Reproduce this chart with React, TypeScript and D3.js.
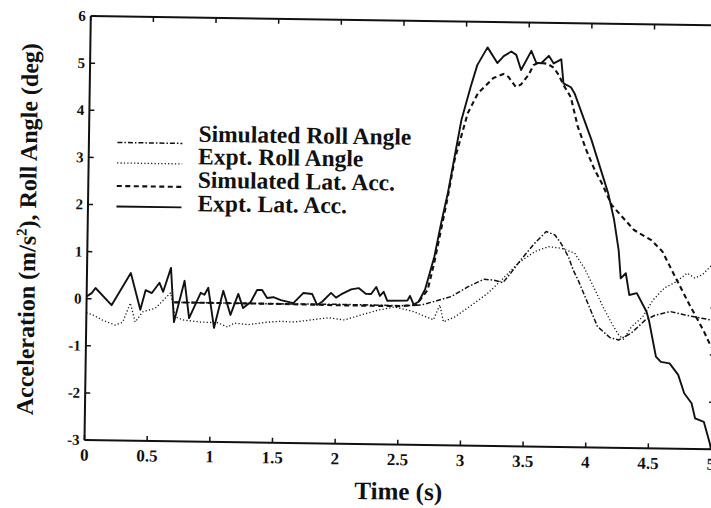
import React from 'react';
import * as d3 from 'd3';

const timeTicks = [0, 0.5, 1, 1.5, 2, 2.5, 3, 3.5, 4, 4.5, 5];
const timeTickLabels = ['0', '0.5', '1', '1.5', '2', '2.5', '3', '3.5', '4', '4.5', '5'];
const valueTicks = [-3, -2, -1, 0, 1, 2, 3, 4, 5, 6];
const valueTickLabels = ['-3', '-2', '-1', '0', '1', '2', '3', '4', '5', '6'];

const seriesNames = ['Simulated Roll Angle', 'Expt. Roll Angle', 'Simulated Lat. Acc.', 'Expt. Lat. Acc.'];

const simRollAngle: [number, number][] = [
  [0.7, -0.05], [1.5, -0.05], [2.0, -0.04], [2.5, -0.05], [2.67, -0.03], [2.8, 0.07], [2.91, 0.16],
  [3.04, 0.37], [3.17, 0.54], [3.25, 0.52], [3.32, 0.47], [3.38, 0.67], [3.46, 0.96], [3.57, 1.32],
  [3.66, 1.57], [3.73, 1.5], [3.78, 1.32], [3.84, 1.04], [3.88, 0.76], [3.92, 0.55], [4.0, 0.06],
  [4.08, -0.43], [4.18, -0.66], [4.25, -0.71], [4.35, -0.56], [4.46, -0.28], [4.54, -0.17],
  [4.66, -0.09], [4.78, -0.16], [4.91, -0.22], [5.0, -0.26],
];

const exptRollAngle: [number, number][] = [
  [0, -0.3], [0.05, -0.34], [0.13, -0.45], [0.23, -0.55], [0.29, -0.49], [0.35, -0.08], [0.39, -0.48],
  [0.45, -0.26], [0.55, -0.18], [0.67, 0.15], [0.71, -0.36], [0.77, -0.42], [0.91, -0.46], [1.05, -0.47],
  [1.13, -0.56], [1.18, -0.47], [1.29, -0.5], [1.45, -0.44], [1.55, -0.42], [1.66, -0.43], [1.82, -0.37],
  [1.93, -0.33], [2.06, -0.37], [2.19, -0.26], [2.33, -0.15], [2.46, -0.08], [2.51, -0.11], [2.61, -0.17],
  [2.77, -0.34], [2.82, -0.02], [2.85, -0.38], [2.94, -0.27], [3.04, -0.08], [3.2, 0.24], [3.31, 0.53],
  [3.44, 0.89], [3.57, 1.14], [3.68, 1.25], [3.78, 1.22], [3.89, 1.12], [3.97, 0.8], [4.05, 0.38],
  [4.12, 0.0], [4.2, -0.39], [4.25, -0.6], [4.29, -0.69], [4.35, -0.43], [4.44, -0.21], [4.52, 0.15],
  [4.61, 0.41], [4.7, 0.54], [4.79, 0.73], [4.85, 0.63], [4.91, 0.7], [5.0, 0.95],
];

const simLatAcc: [number, number][] = [
  [0.7, -0.05], [1.5, -0.05], [2.0, -0.06], [2.5, -0.06], [2.63, -0.03], [2.72, 0.29], [2.77, 0.87],
  [2.82, 1.57], [2.87, 2.27], [2.92, 3.06], [3.02, 4.06], [3.1, 4.49], [3.15, 4.62], [3.22, 4.81],
  [3.3, 4.9], [3.34, 4.84], [3.4, 4.63], [3.44, 4.68], [3.5, 4.89], [3.54, 5.1], [3.58, 5.15],
  [3.65, 5.13], [3.7, 5.05], [3.74, 4.9], [3.78, 4.69], [3.84, 4.43], [3.9, 3.8], [3.97, 3.31],
  [4.04, 2.89], [4.1, 2.6], [4.18, 2.15], [4.36, 1.63], [4.5, 1.42], [4.59, 1.18], [4.7, 0.62],
  [4.81, 0.07], [4.88, -0.26], [4.93, -0.5], [4.99, -0.83],
];

const exptLatAcc: [number, number][] = [
  [0, 0.05], [0.04, 0.12], [0.07, 0.23], [0.2, -0.13], [0.35, 0.56], [0.43, -0.22], [0.47, 0.2],
  [0.52, 0.14], [0.58, 0.36], [0.61, 0.17], [0.67, 0.68], [0.7, -0.47], [0.78, 0.41], [0.82, -0.38],
  [0.91, 0.16], [0.94, 0.12], [0.97, 0.27], [1.02, -0.58], [1.09, 0.21], [1.15, -0.3], [1.21, 0.15],
  [1.25, -0.15], [1.31, -0.02], [1.36, 0.24], [1.4, 0.24], [1.44, 0.07], [1.49, 0.09], [1.55, 0.03],
  [1.65, -0.03], [1.73, 0.19], [1.8, 0.17], [1.84, -0.06], [1.88, 0.01], [1.95, 0.2], [1.99, 0.1],
  [2.03, 0.17], [2.11, 0.28], [2.17, 0.31], [2.23, 0.19], [2.27, 0.19], [2.31, 0.34], [2.34, 0.15],
  [2.37, 0.24], [2.4, 0.05], [2.56, 0.06], [2.58, 0.16], [2.61, -0.02], [2.65, 0.04], [2.7, 0.3],
  [2.77, 1.0], [2.82, 1.71], [2.87, 2.35], [2.97, 3.91], [3.04, 4.62], [3.09, 5.08], [3.17, 5.46],
  [3.25, 5.13], [3.3, 5.28], [3.36, 5.38], [3.4, 5.31], [3.44, 4.99], [3.52, 5.4], [3.56, 5.15],
  [3.6, 5.14], [3.66, 5.3], [3.7, 5.14], [3.76, 5.23], [3.78, 4.72], [3.84, 4.64], [3.87, 4.51],
  [4.01, 3.53], [4.15, 2.4], [4.2, 1.84], [4.24, 1.2], [4.26, 0.6], [4.3, 0.71], [4.33, 0.25],
  [4.39, 0.29], [4.47, -0.1], [4.49, -0.28], [4.55, -1.05], [4.59, -1.16], [4.66, -1.19],
  [4.73, -1.43], [4.78, -1.82], [4.84, -2.03], [4.87, -2.35], [4.94, -2.42], [4.99, -2.87], [5.0, -3.0],
];

const FONT = "'Liberation Serif', 'Times New Roman', Times, serif";
const INK = '#111';

export default function App() {
  const left = 84.5, right = 711, bottom = 440, top = 16;
  const rightAxis = right + 2.5;
  const x = d3.scaleLinear().domain([0, 5]).range([left, right]);
  const y = d3.scaleLinear().domain([-3, 6]).range([bottom, top]);
  const line = d3.line<[number, number]>().x(d => x(d[0])).y(d => y(d[1]));

  const styles = [
    { w: 1.5, dash: '5 2 1.5 2' },
    { w: 1.3, dash: '1.2 2.2' },
    { w: 2.1, dash: '5 3.5' },
    { w: 1.9, dash: '' },
  ];
  const series = [simRollAngle, exptRollAngle, simLatAcc, exptLatAcc];

  const legendLineY = [142, 162.5, 185.5, 206];
  const legendTextY = [140, 162.5, 186, 209.5];

  return (
    <svg width={711} height={508} style={{ position: 'absolute', left: 0, top: 0, background: '#fff' }}>
      <rect x={0} y={0} width={711} height={508} fill="#fff" />
      <g transform={`rotate(0.85 ${left} ${bottom})`}>
        <line x1={left} y1={bottom} x2={rightAxis} y2={bottom} stroke={INK} strokeWidth={2} />
        <line x1={left} y1={top} x2={rightAxis} y2={top} stroke={INK} strokeWidth={2} />
        <line x1={left} y1={top} x2={left} y2={bottom} stroke={INK} strokeWidth={2} />
        <line x1={rightAxis} y1={top} x2={rightAxis} y2={bottom} stroke={INK} strokeWidth={2} />
        {timeTicks.map((t, i) => (
          <g key={'xt' + i}>
            <line x1={x(t)} x2={x(t)} y1={bottom} y2={bottom - 5} stroke={INK} strokeWidth={1.5} />
            <line x1={x(t)} x2={x(t)} y1={top} y2={top + 5} stroke={INK} strokeWidth={1.5} />
            <text x={x(t)} y={bottom + 20.5} textAnchor="middle" fontFamily={FONT} fontWeight="bold" fontSize={17} fill={INK}>
              {timeTickLabels[i]}
            </text>
          </g>
        ))}
        {valueTicks.map((v, i) => (
          <g key={'yt' + i}>
            <line x1={left} x2={left + 5} y1={y(v)} y2={y(v)} stroke={INK} strokeWidth={1.5} />
            <line x1={rightAxis} x2={rightAxis - 5} y1={y(v)} y2={y(v)} stroke={INK} strokeWidth={1.5} />
            <text x={left - 5} y={y(v) + 5} textAnchor="end" fontFamily={FONT} fontWeight="bold" fontSize={15} fill={INK}>
              {valueTickLabels[i]}
            </text>
          </g>
        ))}
        {series.map((s, i) => (
          <path key={'s' + i} d={line(s) || ''} fill="none" stroke={INK} strokeWidth={styles[i].w}
            strokeDasharray={styles[i].dash || undefined} strokeLinejoin="round" />
        ))}
        {seriesNames.map((name, i) => (
          <g key={'lg' + i}>
            <line x1={113} x2={178} y1={legendLineY[i]} y2={legendLineY[i]} stroke={INK}
              strokeWidth={styles[i].w} strokeDasharray={styles[i].dash || undefined} />
            <text x={194} y={legendTextY[i]} fontFamily={FONT} fontWeight="bold" fontSize={23.5} fill={INK}>
              {name}
            </text>
          </g>
        ))}
        <text x={399} y={495} textAnchor="middle" fontFamily={FONT} fontWeight="bold" fontSize={25} fill={INK}>
          Time (s)
        </text>
        <text transform="translate(32.5,230) rotate(-90)" textAnchor="middle" fontFamily={FONT} fontWeight="bold" fontSize={24} fill={INK}>
          Acceleration (m/s<tspan dy={-9} fontSize={15}>2</tspan><tspan dy={9}>), Roll Angle (deg)</tspan>
        </text>
      </g>
    </svg>
  );
}
